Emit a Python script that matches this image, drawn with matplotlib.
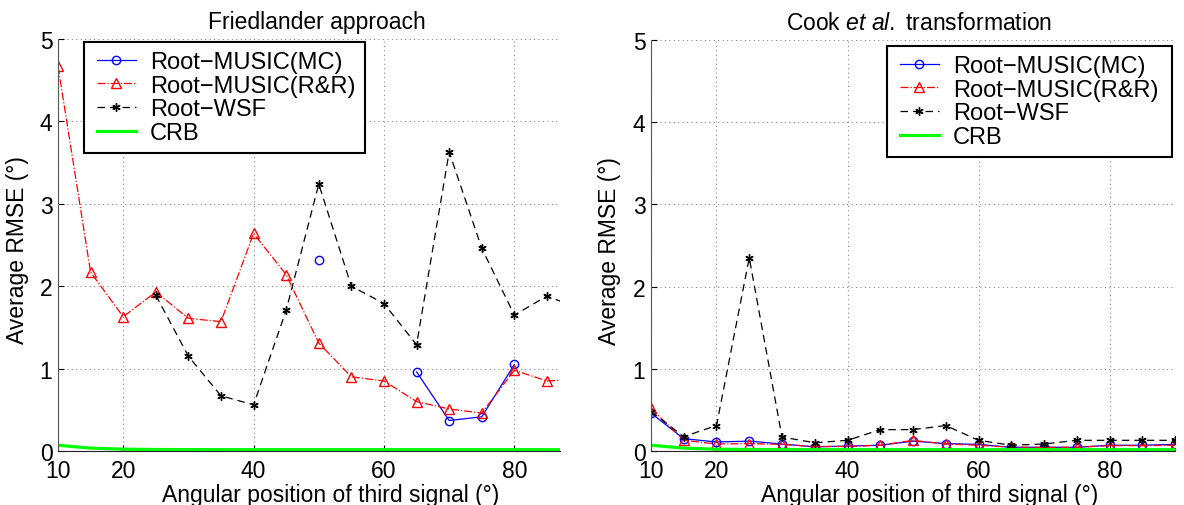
import numpy as np
import matplotlib
matplotlib.use("Agg")
import matplotlib.pyplot as plt
from matplotlib.patches import Rectangle

plt.rcParams['font.family'] = ['Liberation Sans', 'DejaVu Sans']
plt.rcParams['mathtext.fontset'] = 'custom'
plt.rcParams['mathtext.rm'] = 'Liberation Sans'
plt.rcParams['mathtext.it'] = 'Liberation Sans:italic'

nan = np.nan
angles = [10, 15, 20, 25, 30, 35, 40, 45, 50, 55, 60, 65, 70, 75, 80, 85, 90]

# Friedlander approach
fr_mc = [nan, nan, nan, nan, nan, nan, nan, nan, 2.32, nan, nan, 0.96, 0.37, 0.415, 1.05, nan, nan]
fr_rr = [4.67, 2.17, 1.63, 1.93, 1.61, 1.57, 2.64, 2.14, 1.31, 0.90, 0.85, 0.60, 0.51, 0.46, 0.98, 0.85, 0.87]
fr_wsf = [nan, nan, nan, 1.89, 1.15, 0.67, 0.56, 1.71, 3.24, 2.00, 1.79, 1.29, 3.63, 2.46, 1.65, 1.88, 1.73]
fr_crb = [0.07, 0.035, 0.022, 0.018, 0.017, 0.016, 0.016, 0.016, 0.016, 0.016, 0.016, 0.016, 0.016, 0.016, 0.016, 0.016, 0.016]

# Cook et al. transformation
ck_mc = [0.46, 0.15, 0.11, 0.12, 0.085, 0.05, 0.06, 0.07, 0.12, 0.09, 0.08, 0.045, 0.045, 0.045, 0.07, 0.07, 0.08]
ck_rr = [0.52, 0.13, 0.085, 0.09, 0.08, 0.055, 0.055, 0.07, 0.13, 0.085, 0.07, 0.045, 0.045, 0.045, 0.065, 0.065, 0.07]
ck_wsf = [0.48, 0.175, 0.31, 2.35, 0.17, 0.10, 0.13, 0.26, 0.26, 0.31, 0.13, 0.07, 0.085, 0.13, 0.13, 0.13, 0.13]
ck_crb = fr_crb

labels = ['Root\u2212MUSIC(MC)', 'Root\u2212MUSIC(R&R)', 'Root\u2212WSF', 'CRB']
xticks = [10, 20, 40, 60, 80]
yticks = [0, 1, 2, 3, 4, 5]

FS = 16.5
LFS = 17
W, H = 1184, 506

fig = plt.figure(figsize=(W / 100, H / 100), dpi=100)
ax1 = fig.add_axes([58 / W, 1 - 452 / H, 502 / W, 412 / H])
ax2 = fig.add_axes([651 / W, 1 - 452 / H, 524 / W, 411 / H])


def draw(ax, mc, rr, wsf, crb, xmax, title, title_x, xlabel_x, ylabel_x, box):
    ax.plot(angles, mc, color='blue', lw=0.9, ls='-', marker='o', ms=6,
            mfc='none', mec='blue', mew=1.0, label=labels[0])
    ax.plot(angles, rr, color='red', lw=0.9, ls='-.', marker='^', ms=6.5,
            mfc='none', mec='red', mew=1.0, label=labels[1])
    ax.plot(angles, wsf, color='black', lw=0.9, ls=(0, (6, 4)), marker=(6, 2, 0), ms=6,
            mfc='black', mec='black', mew=1.0, label=labels[2])
    ax.plot(angles, crb, color='#00ff00', lw=2.3, ls='-', label=labels[3])
    ax.set_xlim(10, xmax)
    ax.set_ylim(0, 5)
    ax.set_xticks(xticks)
    ax.set_yticks(yticks)
    ax.grid(True, ls=(0, (1, 3)), color='#888888', lw=0.8)
    ax.set_axisbelow(True)
    for s in ('top', 'right'):
        ax.spines[s].set_visible(False)
    ax.spines['left'].set_color('#555555')
    ax.spines['bottom'].set_color('#222222')
    ax.tick_params(direction='in', length=4, labelsize=FS)
    ax.tick_params(axis='x', pad=6)
    ax.tick_params(axis='y', pad=4)
    ax.set_xlabel('Angular position of third signal (\u00b0)', fontsize=FS)
    ax.xaxis.set_label_coords(xlabel_x, -0.077)
    ax.set_ylabel('Average RMSE (\u00b0)', fontsize=FS)
    ax.yaxis.set_label_coords(ylabel_x, 0.49)
    t = ax.set_title(title, fontsize=FS, pad=8)
    t.set_x(title_x)

    # legend box (pixel coords) with entries placed inside
    x0, y0, x1, y1 = box
    rect = Rectangle((x0 / W, 1 - y1 / H), (x1 - x0) / W, (y1 - y0) / H,
                     transform=fig.transFigure, facecolor='white', edgecolor='black',
                     lw=1.5, zorder=4.9, clip_on=False)
    ax.add_patch(rect)
    ax.legend(loc='center left', bbox_to_anchor=((x0 + 13) / W, 1 - (y0 + y1) / 2 / H),
              bbox_transform=fig.transFigure, borderaxespad=0, borderpad=0,
              fontsize=LFS, numpoints=1, handlelength=1.65, handletextpad=0.6,
              labelspacing=0.075, frameon=False)


draw(ax1, fr_mc, fr_rr, fr_wsf, fr_crb, 87, 'Friedlander approach', 0.516, 0.544, -0.058,
     (84, 43, 365, 154))
draw(ax2, ck_mc, ck_rr, ck_wsf, ck_crb, 90,
     r'$\mathrm{Cook}\ \mathit{et\ al.}\ \mathrm{transformation}$', 0.511, 0.532, -0.057,
     (887, 47, 1172, 158))

fig.savefig('out.png', dpi=100)
